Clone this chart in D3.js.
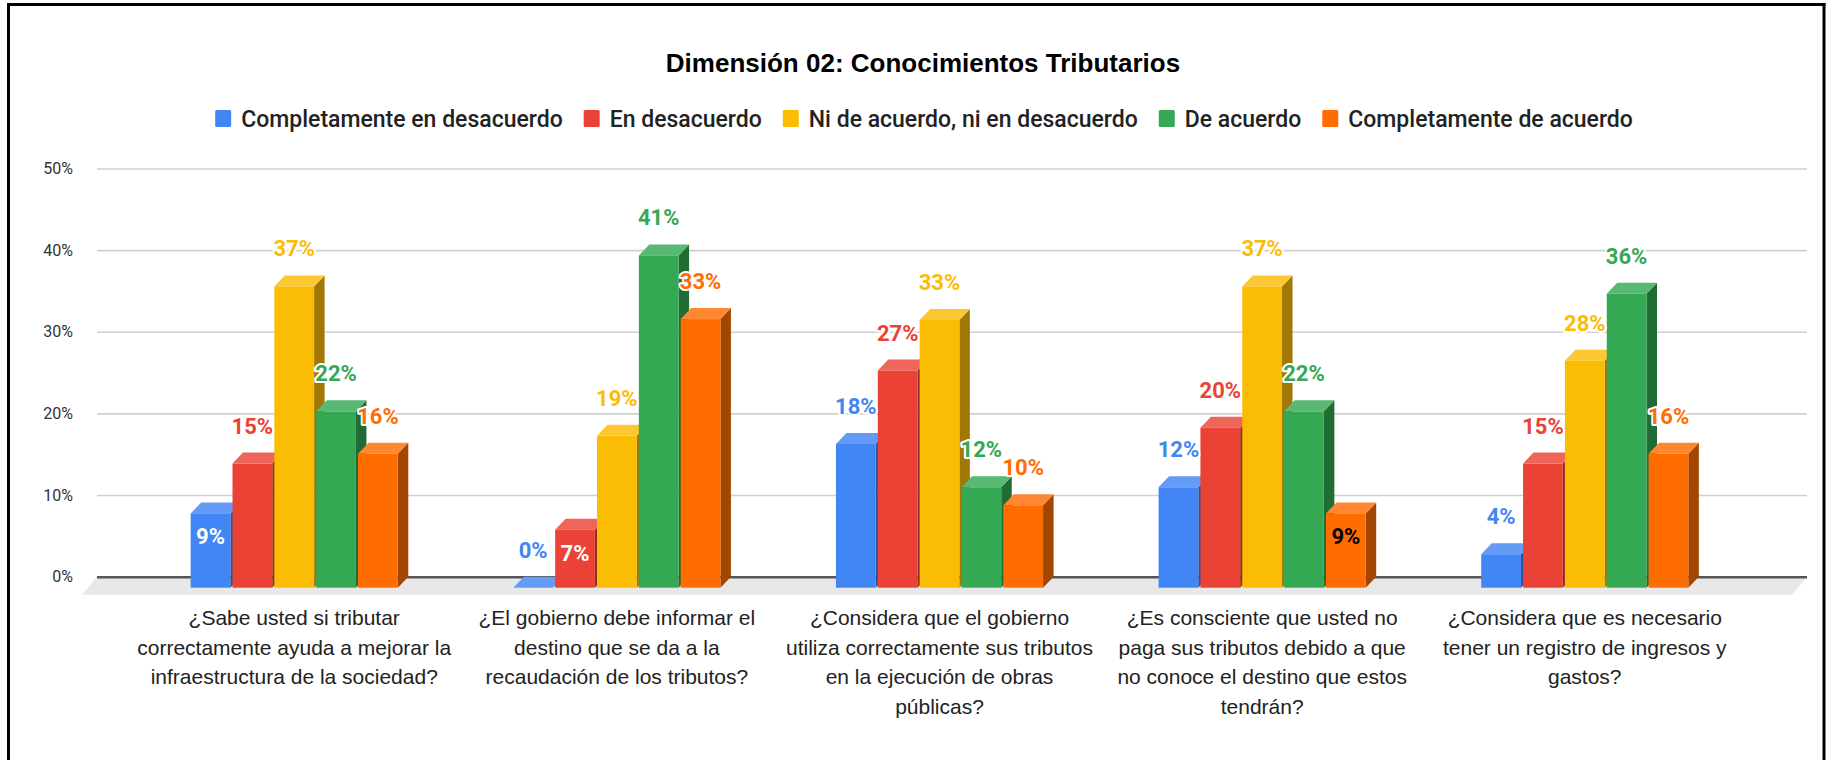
<!DOCTYPE html>
<html>
<head>
<meta charset="utf-8">
<script src="https://cdn.jsdelivr.net/npm/d3@7"></script>
<style>
  html, body { margin: 0; padding: 0; background: #fff; }
  svg { display: block; }
</style>
</head>
<body>
<svg id="chart" width="1838" height="760"></svg>
<script>
// ---------------- DATA ----------------
const title = "Dimensión 02: Conocimientos Tributarios";
const categories = [
  ["¿Sabe usted si tributar", "correctamente ayuda a mejorar la", "infraestructura de la sociedad?"],
  ["¿El gobierno debe informar el", "destino que se da a la", "recaudación de los tributos?"],
  ["¿Considera que el gobierno", "utiliza correctamente sus tributos", "en la ejecución de obras", "públicas?"],
  ["¿Es consciente que usted no", "paga sus tributos debido a que", "no conoce el destino que estos", "tendrán?"],
  ["¿Considera que es necesario", "tener un registro de ingresos y", "gastos?"]
];
const seriesNames = ["Completamente en desacuerdo", "En desacuerdo", "Ni de acuerdo, ni en desacuerdo", "De acuerdo", "Completamente de acuerdo"];
const completamenteEnDesacuerdo = [0.091, 0.000, 0.176, 0.123, 0.041];
const enDesacuerdo              = [0.152, 0.071, 0.266, 0.196, 0.152];
const niDeAcuerdoNiEnDesacuerdo = [0.369, 0.186, 0.328, 0.369, 0.278];
const deAcuerdo                 = [0.216, 0.407, 0.123, 0.216, 0.360];
const completamenteDeAcuerdo    = [0.164, 0.329, 0.101, 0.091, 0.164];
const yTicks = [0, 0.1, 0.2, 0.3, 0.4, 0.5];

// ---------------- STYLE / CONFIG ----------------
const colors = ["#4285F4", "#EA4335", "#FBBC04", "#34A853", "#FF6D01"];
// labels drawn inside the bar: [category index, series index, text colour]
const insideLabels = [[0, 0, "#ffffff"], [1, 1, "#ffffff"], [3, 4, "#000000"]];
const DX = 10.5, DY = 11;           // 3D depth offset
const wallLeft = 97, wallRight = 1807;

const seriesValues = [completamenteEnDesacuerdo, enDesacuerdo, niDeAcuerdoNiEnDesacuerdo, deAcuerdo, completamenteDeAcuerdo];
const svg = d3.select("#chart");

// frame
svg.append("line").attr("x1", 7).attr("x2", 1825.5).attr("y1", 4.5).attr("y2", 4.5).attr("stroke", "#000").attr("stroke-width", 3);
svg.append("line").attr("x1", 8.5).attr("x2", 8.5).attr("y1", 3).attr("y2", 760).attr("stroke", "#000").attr("stroke-width", 3);
svg.append("line").attr("x1", 1824).attr("x2", 1824).attr("y1", 3).attr("y2", 760).attr("stroke", "#000").attr("stroke-width", 3);

// title
svg.append("text").attr("x", 923).attr("y", 72).attr("text-anchor", "middle")
  .attr("font-family", "'Liberation Sans', Arial, sans-serif").attr("font-weight", "bold")
  .attr("font-size", 26).attr("fill", "#000").text(title);

// scales
const y = d3.scaleLinear().domain([0, 0.5]).range([576.7, 168.5]);
const x0 = d3.scaleBand().domain(d3.range(categories.length)).range([84.5, 1794.5])
  .paddingInner(0.358).paddingOuter(0.329);
const x1 = d3.scaleBand().domain(d3.range(seriesNames.length)).range([0, x0.bandwidth()]).paddingInner(0.05);
const fmt = d3.format(".0%");

// floor
const y0 = y(0);
svg.append("polygon")
  .attr("points", [[wallLeft, y0], [wallRight, y0], [wallRight - 15, y0 + 18], [wallLeft - 15, y0 + 18]].map(p => p.join(",")).join(" "))
  .attr("fill", "#e8e8e8");

// y axis with gridlines
const yAxis = svg.append("g").attr("transform", `translate(${wallLeft},0)`)
  .call(d3.axisLeft(y).tickValues(yTicks).tickFormat(fmt).tickSize(-(wallRight - wallLeft)).tickPadding(24));
yAxis.select(".domain").remove();
yAxis.selectAll(".tick line").attr("stroke", d => d === 0 ? "#555" : "#d0d0d0").attr("stroke-width", d => d === 0 ? 2.5 : 1.6);
yAxis.selectAll(".tick text").attr("font-family", "Roboto, sans-serif").attr("font-size", 16).attr("fill", "#333");

// bars
const bars = [];
categories.forEach((c, ci) => {
  seriesValues.forEach((vals, si) => {
    bars.push({ ci, si, v: vals[ci] });
  });
});

const barG = svg.append("g");
bars.forEach(b => {
  const xf = x0(b.ci) + x1(b.si);
  const w = x1.bandwidth();
  const yT = y(b.v) + DY, yB = y0 + DY;
  const base = d3.color(colors[b.si]);
  const top = d3.interpolateRgb(colors[b.si], "#ffffff")(0.18);
  const side = base.darker(1.25);
  const g = barG.append("g");
  g.append("polygon")
    .attr("points", [[xf + w, yT], [xf + w + DX, yT - DY], [xf + w + DX, yB - DY], [xf + w, yB]].map(p => p.join(",")).join(" "))
    .attr("fill", side);
  g.append("polygon")
    .attr("points", [[xf, yT], [xf + w, yT], [xf + w + DX, yT - DY], [xf + DX, yT - DY]].map(p => p.join(",")).join(" "))
    .attr("fill", top);
  g.append("rect").attr("x", xf).attr("y", yT).attr("width", w).attr("height", Math.max(0, yB - yT)).attr("fill", colors[b.si]);
});

// data labels
const labG = svg.append("g");
bars.forEach(b => {
  const xc = x0(b.ci) + x1(b.si) + x1.bandwidth() / 2;
  const inside = insideLabels.find(d => d[0] === b.ci && d[1] === b.si);
  const t = labG.append("text").attr("x", xc).attr("text-anchor", "middle")
    .attr("font-family", "Roboto, sans-serif").attr("font-weight", "bold").attr("font-size", 22)
    .text(fmt(b.v));
  if (inside) {
    t.attr("y", y(b.v) + DY + 31).attr("fill", inside[2]);
  } else {
    t.attr("y", y(b.v) - 19).attr("fill", colors[b.si])
      .attr("stroke", "#fff").attr("stroke-width", 4).attr("stroke-linejoin", "round").attr("paint-order", "stroke");
  }
});

// category axis
const xAxis = svg.append("g").attr("transform", `translate(0,${625.3})`)
  .call(d3.axisBottom(x0).tickSize(0).tickPadding(0).tickFormat(() => ""));
xAxis.select(".domain").remove();
xAxis.selectAll(".tick text").each(function(d) {
  const t = d3.select(this).attr("y", 0).attr("dy", null)
    .attr("font-family", "'Liberation Sans', Arial, sans-serif").attr("font-size", 21).attr("fill", "#222");
  categories[d].forEach((line, i) => {
    t.append("tspan").attr("x", 0).attr("y", i * 29.6).text(line);
  });
});

// legend
const legend = svg.append("g");
let lx = 0;
seriesNames.forEach((name, i) => {
  const g = legend.append("g").attr("transform", `translate(${lx},0)`);
  g.append("rect").attr("x", 0).attr("y", 110).attr("width", 16).attr("height", 17).attr("rx", 1.5).attr("fill", colors[i]);
  const t = g.append("text").attr("x", 26).attr("y", 127)
    .attr("font-family", "Roboto, sans-serif").attr("font-weight", 500).attr("font-size", 23).attr("fill", "#222").text(name);
  const tw = t.node().getComputedTextLength();
  lx += 26 + tw + 21;
});
const legendWidth = lx - 21;
legend.attr("transform", `translate(${924 - legendWidth / 2},0)`);
</script>
</body>
</html>
